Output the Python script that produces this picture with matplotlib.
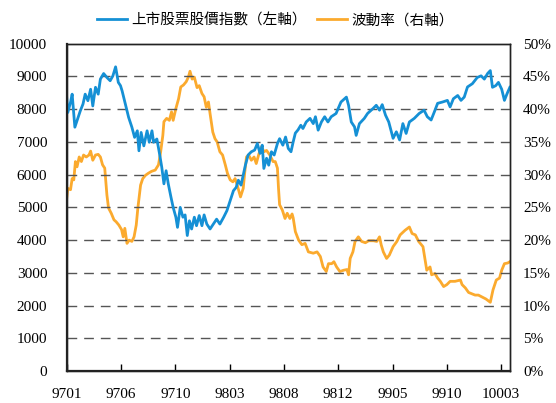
import numpy as np
import matplotlib
matplotlib.use("Agg")
import matplotlib.pyplot as plt
from matplotlib.ticker import FuncFormatter

# trading-day index (0 = first trading day of 97/01) and values
index_day = [0, 2, 7, 10, 15, 19, 25, 30, 34, 39, 44, 48, 53, 58, 62, 68, 74, 80, 85, 90,
             95, 99, 102, 108, 114, 120, 125, 130, 133, 137, 142, 148, 152, 157, 160, 166,
             171, 175, 179, 183, 187, 192, 196, 201, 204, 209, 214, 218, 222, 226, 230, 235,
             239, 244, 249, 253, 258, 264, 270, 276, 282, 289, 295, 301, 307, 312, 316, 321,
             325, 329, 334, 340, 346, 351, 356, 360, 363, 368, 372, 377, 382, 388, 392, 398,
             403, 408, 413, 417, 421, 426, 431, 435, 441, 448, 454, 458, 463, 469, 475, 481,
             487, 496, 505, 515, 519, 524, 530, 533, 539, 548, 554, 564, 570, 576, 581, 587,
             593, 601, 607, 613, 619, 625, 631, 640, 649, 658, 664, 671, 677, 683, 692, 701,
             706, 712, 720, 726, 732, 738, 747, 756, 763, 769, 775, 780, 784, 790, 795, 801,
             806, 811, 816]
index_val = [8360, 7900, 8210, 8460, 7450, 7650, 7950, 8160, 8460, 8260, 8610, 8100, 8670,
             8460, 8920, 9090, 8970, 8870, 9020, 9295, 8820, 8720, 8560, 8160, 7750, 7450,
             7140, 7340, 6730, 7290, 6880, 7340, 6990, 7340, 6990, 7090, 6630, 6230, 5720,
             6120, 5720, 5310, 5000, 4700, 4390, 5000, 4700, 4770, 4140, 4590, 4340, 4700,
             4440, 4750, 4440, 4770, 4490, 4340, 4490, 4640, 4490, 4700, 4900, 5200, 5510,
             5610, 5830, 5680, 5990, 6290, 6600, 6700, 6750, 6950, 6650, 6900, 6190, 6500,
             6290, 6700, 6600, 6950, 7100, 6900, 7150, 6800, 6700, 7000, 7270, 7370, 7510,
             7410, 7610, 7720, 7560, 7770, 7360, 7610, 7770, 7610, 7770, 7870, 8220, 8370,
             8120, 7610, 7460, 7200, 7560, 7720, 7870, 8020, 8120, 7970, 8140, 7820, 7610,
             7110, 7310, 7060, 7560, 7260, 7610, 7720, 7870, 7970, 7770, 7670, 7920, 8180,
             8220, 8270, 8070, 8320, 8420, 8270, 8370, 8680, 8780, 8970, 9020, 8920, 9090,
             9180, 8670, 8720, 8820, 8610, 8270, 8480, 8670]

vol_day = [0, 2, 7, 10, 13, 16, 19, 23, 27, 31, 36, 41, 44, 48, 53, 58, 62, 66, 70, 72, 74,
           77, 82, 87, 91, 96, 101, 104, 107, 111, 115, 120, 124, 128, 131, 136, 140, 145,
           150, 156, 163, 169, 173, 177, 179, 184, 189, 193, 196, 201, 206, 210, 215, 220,
           224, 227, 231, 235, 240, 244, 249, 253, 257, 261, 264, 269, 273, 277, 282, 287,
           292, 296, 301, 306, 310, 314, 320, 325, 328, 331, 335, 340, 345, 349, 354, 359,
           363, 368, 374, 380, 384, 388, 390, 392, 397, 402, 406, 411, 415, 417, 421, 427,
           433, 439, 445, 454, 461, 467, 472, 478, 482, 488, 492, 497, 503, 510, 516, 519,
           522, 527, 531, 537, 543, 550, 556, 565, 571, 576, 579, 583, 589, 594, 601, 608,
           614, 623, 631, 636, 642, 648, 656, 660, 663, 669, 672, 678, 683, 688, 694, 700,
           706, 715, 725, 728, 734, 740, 746, 752, 758, 765, 772, 780, 785, 791, 797, 801,
           806, 812, 816]
vol_val = [26.4, 27.9, 27.7, 29.4, 29.2, 32.0, 31.2, 32.7, 32.0, 33.0, 32.7, 33.0, 33.6,
           32.2, 33.0, 33.1, 32.7, 31.5, 31.0, 28.9, 26.9, 24.9, 24.1, 23.1, 22.8, 22.3,
           21.6, 20.5, 21.8, 19.5, 20.0, 19.8, 20.5, 22.3, 24.9, 28.4, 29.4, 29.9, 30.2,
           30.5, 30.7, 31.5, 33.5, 36.0, 38.1, 38.6, 38.3, 39.6, 38.3, 40.1, 41.6, 43.4,
           43.7, 44.2, 44.9, 45.8, 44.6, 44.9, 43.3, 43.6, 42.4, 41.9, 40.3, 41.1, 39.3,
           36.5, 35.5, 35.0, 33.5, 33.0, 31.5, 30.2, 29.2, 28.9, 29.4, 28.4, 26.6, 27.9,
           30.5, 32.7, 33.0, 32.2, 32.7, 31.7, 33.2, 34.3, 33.5, 33.7, 33.0, 32.0, 32.0,
           31.0, 27.9, 25.4, 24.6, 23.3, 24.1, 23.3, 24.0, 23.4, 21.3, 20.0, 19.3, 19.5,
           18.2, 18.0, 18.2, 17.5, 15.9, 15.2, 16.4, 16.4, 16.7, 15.9, 15.2, 15.4, 15.5,
           14.7, 17.2, 18.2, 19.8, 20.5, 19.8, 19.6, 19.9, 19.9, 19.8, 20.5, 19.3, 18.2,
           17.2, 17.7, 19.0, 19.8, 20.8, 21.5, 22.0, 21.0, 20.8, 19.8, 19.0, 17.0, 15.4,
           15.9, 14.7, 14.9, 14.2, 13.7, 12.9, 13.2, 13.7, 13.7, 13.9, 13.2, 12.7, 12.0,
           11.8, 11.6, 11.6, 11.3, 11.0, 10.5, 12.4, 13.9, 14.2, 15.4, 16.4, 16.5, 16.7]

tick_day = [0, 100, 200, 300, 400, 500, 600, 700, 800]
tick_labels = ["9701", "9706", "9710", "9803", "9808", "9812", "9905", "9910", "10003"]

label_index = "上市股票股價指數（左軸）"
label_vol = "波動率（右軸）"

blue = "#1590D5"
orange = "#FBAA2E"
serif = "Liberation Serif"
cjk = ["Noto Sans CJK TC", "DejaVu Sans"]

fig = plt.figure(figsize=(5.56, 4.03), dpi=100)
ax = fig.add_axes([0.12, 0.0794, 0.797, 0.812])
ax2 = ax.twinx()

ax.set_zorder(ax2.get_zorder() + 1)
ax.patch.set_visible(False)

# dashed grid on the left axis
for v in range(1000, 10000, 1000):
    ax.axhline(v, color="#555555", lw=1.0, dashes=(7, 5), zorder=0)

l2, = ax2.plot(vol_day, vol_val, color=orange, lw=2.0, label=label_vol)
l1, = ax.plot(index_day, index_val, color=blue, lw=2.0, label=label_index)

ax.set_xlim(0, 816)
ax.set_ylim(0, 10000)
ax2.set_ylim(0, 50)
ax.set_yticks(range(0, 10001, 1000))
ax2.set_yticks(range(0, 51, 5))
ax2.yaxis.set_major_formatter(FuncFormatter(lambda v, p: f"{v:.0f}%"))
ax.set_xticks(tick_day)
ax.set_xticklabels(tick_labels)

for a in (ax, ax2):
    for lab in a.get_yticklabels() + a.get_xticklabels():
        lab.set_fontfamily(serif)
        lab.set_fontsize(11)
ax.tick_params(axis="y", length=0, pad=14)
ax2.tick_params(axis="y", length=0, pad=9.5)
ax.tick_params(axis="x", direction="in", length=5, width=1, pad=12)

for a in (ax, ax2):
    for s in a.spines.values():
        s.set_linewidth(1.0)
        s.set_color("#222222")
ax.spines["left"].set_linewidth(1.6)
ax.spines["bottom"].set_linewidth(1.6)

fig.legend(handles=[l1, l2], loc="center", bbox_to_anchor=(0.496, 0.95), ncol=2,
           frameon=False, prop={"family": cjk, "size": 10.5}, handlelength=2.0,
           handletextpad=0.35, columnspacing=0.7)

fig.savefig("out.png", dpi=100)
